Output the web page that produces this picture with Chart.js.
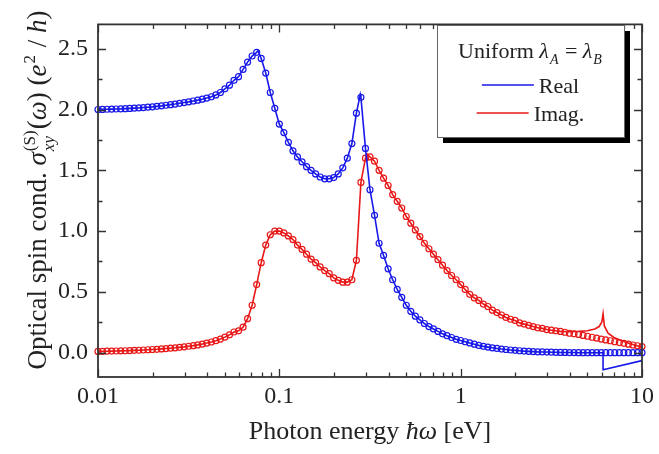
<!DOCTYPE html>
<html>
<head>
<meta charset="utf-8">
<script src="https://cdn.jsdelivr.net/npm/chart.js@4.4.1/dist/chart.umd.min.js"></script>
<style>
  body { margin: 0; background: #fff; }
</style>
</head>
<body>
<canvas id="spinChart" width="659" height="454"></canvas>
<script>
// photon energies of the sampled points (eV), 40 per decade
const energy = [
  0.0100, 0.01059, 0.01122, 0.01189, 0.01259, 0.01334, 0.01413, 0.01496, 0.01585, 0.01679,
  0.01778, 0.01884, 0.01995, 0.02113, 0.02239, 0.02371, 0.02512, 0.02661, 0.02818, 0.02985,
  0.03162, 0.03350, 0.03548, 0.03758, 0.03981, 0.04217, 0.04467, 0.04732, 0.05012, 0.05309,
  0.05623, 0.05957, 0.06310, 0.06683, 0.07079, 0.07499, 0.07943, 0.08414, 0.08913, 0.09441,
  0.1000, 0.1059, 0.1122, 0.1189, 0.1259, 0.1334, 0.1413, 0.1496, 0.1585, 0.1679,
  0.1778, 0.1884, 0.1995, 0.2113, 0.2239, 0.2371, 0.2512, 0.2661, 0.2818, 0.2985,
  0.3162, 0.3350, 0.3548, 0.3758, 0.3981, 0.4217, 0.4467, 0.4732, 0.5012, 0.5309,
  0.5623, 0.5957, 0.6310, 0.6683, 0.7079, 0.7499, 0.7943, 0.8414, 0.8913, 0.9441,
  1.000, 1.059, 1.122, 1.189, 1.259, 1.334, 1.413, 1.496, 1.585, 1.679,
  1.778, 1.884, 1.995, 2.113, 2.239, 2.371, 2.512, 2.661, 2.818, 2.985,
  3.162, 3.350, 3.548, 3.758, 3.981, 4.217, 4.467, 4.732, 5.012, 5.309,
  5.623, 5.957, 6.310, 6.683, 7.079, 7.499, 7.943, 8.414, 8.913, 9.441,
  10.0
];

// Real part (circles)
const realMarks = [
  2.000, 2.001, 2.002, 2.003, 2.004, 2.005, 2.007, 2.009, 2.011, 2.013,
  2.016, 2.019, 2.022, 2.026, 2.030, 2.035, 2.040, 2.045, 2.051, 2.057,
  2.063, 2.070, 2.077, 2.085, 2.094, 2.105, 2.12, 2.14, 2.17, 2.20,
  2.24, 2.27, 2.33, 2.39, 2.44, 2.47, 2.42, 2.30, 2.14, 2.01,
  1.88, 1.81, 1.73, 1.66, 1.61, 1.57, 1.53, 1.50, 1.47, 1.445,
  1.43, 1.43, 1.44, 1.47, 1.52, 1.60, 1.72, 1.97, 2.10, 1.68,
  1.34, 1.13, 0.90, 0.80, 0.69, 0.60, 0.52, 0.455, 0.39, 0.34,
  0.30, 0.27, 0.24, 0.215, 0.195, 0.175, 0.155, 0.14, 0.125, 0.11,
  0.10, 0.09, 0.08, 0.07, 0.06, 0.052, 0.046, 0.040, 0.035, 0.030,
  0.026, 0.022, 0.019, 0.016, 0.013, 0.011, 0.009, 0.007, 0.006, 0.005,
  0.004, 0.003, 0.002, 0.002, 0.001, 0.001, 0, 0, 0, 0,
  0, 0, 0, 0, 0, 0, 0, 0, 0, 0,
  0
];

// Imaginary part (circles)
const imagMarks = [
  0.010, 0.011, 0.012, 0.013, 0.014, 0.015, 0.016, 0.017, 0.019, 0.020,
  0.022, 0.024, 0.026, 0.028, 0.031, 0.034, 0.037, 0.040, 0.044, 0.048,
  0.053, 0.058, 0.064, 0.071, 0.079, 0.088, 0.099, 0.112, 0.128, 0.147,
  0.17, 0.18, 0.21, 0.28, 0.39, 0.56, 0.74, 0.885, 0.97, 1.00,
  1.00, 0.985, 0.96, 0.93, 0.885, 0.85, 0.81, 0.77, 0.74, 0.705,
  0.675, 0.65, 0.615, 0.595, 0.58, 0.58, 0.60, 0.76, 1.40, 1.60,
  1.61, 1.575, 1.50, 1.435, 1.375, 1.30, 1.245, 1.19, 1.12, 1.065,
  1.01, 0.955, 0.90, 0.855, 0.81, 0.765, 0.72, 0.675, 0.635, 0.60,
  0.56, 0.52, 0.48, 0.45, 0.43, 0.40, 0.38, 0.35, 0.33, 0.31,
  0.29, 0.275, 0.265, 0.245, 0.235, 0.225, 0.215, 0.205, 0.20, 0.19,
  0.185, 0.18, 0.175, 0.168, 0.16, 0.155, 0.15, 0.142, 0.135, 0.127,
  0.12, 0.112, 0.105, 0.098, 0.09, 0.083, 0.077, 0.07, 0.063, 0.057,
  0.05
];

// where the solid curves leave the circles (sharp peaks, 6 eV feature)
const realPeakE = [0.0762, 0.2795];
const realPeakV = [2.485, 2.125];
const realTailE = [6.1, 6.1, 10.0];
const realTailV = [0.0, -0.14, -0.065];
const imagPeakE = [0.305];
const imagPeakV = [1.635];
const imagTailE = [4.0, 4.5, 5.0, 5.5, 5.8, 6.0, 6.1, 6.2, 6.5, 7.0, 8.0, 9.0, 10.0];
const imagTailV = [0.172, 0.175, 0.18, 0.195, 0.215, 0.25, 0.32, 0.22, 0.16, 0.125, 0.09, 0.065, 0.045];

const xMajorTicks = [0.01, 0.1, 1, 10];
const xTickLabels = ['0.01', '0.1', '1', '10'];
const xMinorTicks = [0.02, 0.03, 0.04, 0.05, 0.06, 0.07, 0.08, 0.09,
  0.2, 0.3, 0.4, 0.5, 0.6, 0.7, 0.8, 0.9, 2, 3, 4, 5, 6, 7, 8, 9];
const yMajorTicks = [0, 0.5, 1.0, 1.5, 2.0, 2.5];
const yMinorTicks = [0.25, 0.75, 1.25, 1.75, 2.25];

const BLUE = '#1818e8';
const RED = '#e81818';
const INK = '#222';
const SERIF = "'Liberation Serif', 'Times New Roman', serif";

function points(xs, ys) {
  return xs.map((x, i) => ({ x: x, y: ys[i] }));
}
function byEnergy(arr) {
  return arr.slice().sort((a, b) => a.x - b.x);
}

const realLine = byEnergy(points(energy, realMarks).filter(p => p.x < 6)
  .concat(points(realPeakE, realPeakV), points(realTailE, realTailV)));
const imagLine = byEnergy(points(energy, imagMarks).filter(p => p.x < 3.6)
  .concat(points(imagPeakE, imagPeakV), points(imagTailE, imagTailV)));

function font(italic, px) {
  return (italic ? 'italic ' : '') + px + 'px ' + SERIF;
}

// text with italic pieces and sub/superscripts, centred on x
function drawRich(ctx, parts, x, y, size) {
  const small = Math.round(size * 0.62);
  const widths = parts.map(p => {
    if (p.t !== undefined) {
      ctx.font = font(p.i, size);
      return ctx.measureText(p.t).width;
    }
    let w = 0;
    if (p.sub) { ctx.font = font(p.subI, small); w = Math.max(w, ctx.measureText(p.sub).width); }
    if (p.sup) { ctx.font = font(false, small); w = Math.max(w, ctx.measureText(p.sup).width); }
    return w + 2;
  });
  let cx = x - widths.reduce((a, b) => a + b, 0) / 2;
  ctx.textAlign = 'left';
  ctx.textBaseline = 'alphabetic';
  parts.forEach((p, k) => {
    if (p.t !== undefined) {
      ctx.font = font(p.i, size);
      ctx.fillText(p.t, cx, y);
    } else {
      if (p.sup) { ctx.font = font(false, small); ctx.fillText(p.sup, cx + 1, y - size * 0.42); }
      if (p.sub) { ctx.font = font(p.subI, small); ctx.fillText(p.sub, cx + 1, y + size * 0.28); }
    }
    cx += widths[k];
  });
}

const framePlugin = {
  id: 'frame',
  afterDatasetsDraw(chart) {
    const ctx = chart.ctx;
    const a = chart.chartArea;
    const xs = chart.scales.x, ys = chart.scales.y;
    ctx.save();
    ctx.strokeStyle = '#333';
    ctx.lineWidth = 1.8;
    ctx.strokeRect(a.left, a.top, a.right - a.left, a.bottom - a.top);
    ctx.lineWidth = 1.3;
    ctx.beginPath();
    const xt = (v, len) => {
      const px = Math.round(xs.getPixelForValue(v)) + 0.5;
      ctx.moveTo(px, a.bottom); ctx.lineTo(px, a.bottom - len);
      ctx.moveTo(px, a.top); ctx.lineTo(px, a.top + len);
    };
    const yt = (v, len) => {
      const py = Math.round(ys.getPixelForValue(v)) + 0.5;
      ctx.moveTo(a.left, py); ctx.lineTo(a.left + len, py);
      ctx.moveTo(a.right, py); ctx.lineTo(a.right - len, py);
    };
    xMajorTicks.forEach(v => xt(v, 8));
    xMinorTicks.forEach(v => xt(v, 4.5));
    yMajorTicks.forEach(v => yt(v, 8));
    yMinorTicks.forEach(v => yt(v, 4.5));
    ctx.stroke();
    ctx.restore();
  }
};

const titlesPlugin = {
  id: 'titles',
  afterDraw(chart) {
    const ctx = chart.ctx;
    const a = chart.chartArea;
    ctx.save();
    ctx.fillStyle = INK;
    drawRich(ctx, [{ t: 'Photon energy ' }, { t: 'ħω', i: true }, { t: ' [eV]' }],
      (a.left + a.right) / 2, 439, 26);
    ctx.translate(46, 190);
    ctx.rotate(-Math.PI / 2);
    drawRich(ctx, [
      { t: 'Optical spin cond. ' }, { t: 'σ', i: true }, { sub: 'xy', subI: true, sup: '(S)' },
      { t: '(' }, { t: 'ω', i: true }, { t: ') (' }, { t: 'e', i: true }, { sup: '2' },
      { t: ' / ' }, { t: 'h', i: true }, { t: ')' }
    ], 0, 0, 27);
    ctx.restore();
  }
};

const legendPlugin = {
  id: 'boxLegend',
  afterDraw(chart) {
    const ctx = chart.ctx;
    const box = { l: 437, t: 25, r: 624, b: 137 };
    const mid = (box.l + box.r) / 2;
    ctx.save();
    ctx.fillStyle = '#000';
    ctx.fillRect(box.l + 6, box.t + 6, box.r - box.l, box.b - box.t);
    ctx.fillStyle = '#fff';
    ctx.fillRect(box.l, box.t, box.r - box.l, box.b - box.t);
    ctx.strokeStyle = '#666';
    ctx.lineWidth = 1;
    ctx.strokeRect(box.l + 0.5, box.t + 0.5, box.r - box.l, box.b - box.t);
    ctx.fillStyle = INK;
    drawRich(ctx, [
      { t: 'Uniform ' }, { t: 'λ', i: true }, { sub: 'A', subI: true },
      { t: ' = ' }, { t: 'λ', i: true }, { sub: 'B', subI: true }
    ], mid, 58, 22);
    const items = [
      { label: chart.data.datasets[0].label, color: BLUE, y: 85 },
      { label: chart.data.datasets[1].label, color: RED, y: 113 }
    ];
    items.forEach(it => {
      ctx.font = font(false, 22);
      const tw = ctx.measureText(it.label).width;
      const x0 = mid - (52 + 5 + tw) / 2;
      ctx.strokeStyle = it.color;
      ctx.lineWidth = 1.6;
      ctx.beginPath();
      ctx.moveTo(x0, it.y); ctx.lineTo(x0 + 52, it.y);
      ctx.stroke();
      ctx.fillStyle = INK;
      ctx.textAlign = 'left';
      ctx.textBaseline = 'alphabetic';
      ctx.fillText(it.label, x0 + 57, it.y + 8);
    });
    ctx.restore();
  }
};

const markerStyle = {
  showLine: false,
  pointStyle: 'circle',
  pointRadius: 3,
  pointBorderWidth: 1.2,
  pointBackgroundColor: 'rgba(255,255,255,0)',
  clip: 4
};

new Chart(document.getElementById('spinChart'), {
  type: 'line',
  data: {
    datasets: [
      { label: 'Real', data: realLine, borderColor: BLUE, borderWidth: 1.6, pointRadius: 0, tension: 0 },
      { label: 'Imag.', data: imagLine, borderColor: RED, borderWidth: 1.6, pointRadius: 0, tension: 0 },
      Object.assign({ label: 'Real (circles)', data: points(energy, realMarks), pointBorderColor: BLUE, borderColor: BLUE }, markerStyle),
      Object.assign({ label: 'Imag. (circles)', data: points(energy, imagMarks), pointBorderColor: RED, borderColor: RED }, markerStyle)
    ]
  },
  options: {
    responsive: false,
    animation: false,
    layout: { padding: { top: 4, right: 14, left: 0, bottom: 0 } },
    plugins: { legend: { display: false }, tooltip: { enabled: false } },
    scales: {
      x: {
        type: 'logarithmic',
        min: 0.01,
        max: 10,
        grid: { display: false, drawTicks: false },
        border: { display: false },
        afterBuildTicks: s => { s.ticks = xMajorTicks.map(v => ({ value: v })); },
        afterFit: s => { s.height = 77; },
        ticks: {
          autoSkip: false,
          maxRotation: 0,
          padding: 5,
          color: INK,
          font: { family: SERIF, size: 24 },
          callback: (v, i) => xTickLabels[i]
        }
      },
      y: {
        type: 'linear',
        min: -0.2,
        max: 2.7,
        grid: { display: false, drawTicks: false },
        border: { display: false },
        afterBuildTicks: s => { s.ticks = yMajorTicks.map(v => ({ value: v })); },
        afterFit: s => { s.width = 98; },
        ticks: {
          padding: 10,
          color: INK,
          font: { family: SERIF, size: 24 },
          callback: v => v.toFixed(1)
        }
      }
    }
  },
  plugins: [framePlugin, titlesPlugin, legendPlugin]
});
</script>
</body>
</html>
